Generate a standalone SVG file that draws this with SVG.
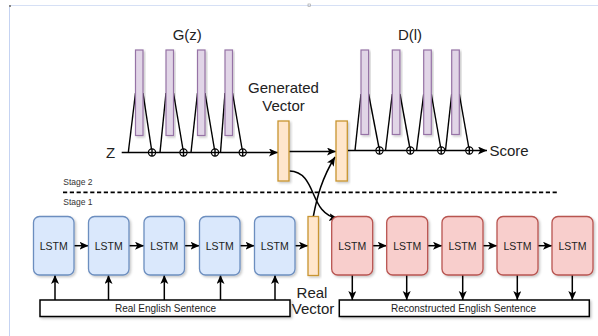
<svg xmlns="http://www.w3.org/2000/svg" width="598" height="336" viewBox="0 0 598 336">
<style>
  text { font-family: "Liberation Sans Narrow", "Liberation Sans", Arial, sans-serif; fill: #222; }
  .big { font-size: 15px; }
  .lstm { font-size: 10.5px; text-anchor: middle; }
  .small { font-size: 8.5px; fill: #333; }
  .sent { font-size: 10px; text-anchor: middle; }
  .bar { fill: #e1d5e7; stroke: #9673a6; stroke-width: 1.2; }
  .vec { fill: #ffe6cc; stroke: #c89530; stroke-width: 1.3; }
  .blue { fill: #dae8fc; stroke: #6c8ebf; stroke-width: 1.3; }
  .red { fill: #f8cecc; stroke: #b85450; stroke-width: 1.3; }
  .ln { stroke: #000; stroke-width: 1.4; fill: none; }
  .arr { stroke: #000; stroke-width: 1.5; fill: none; marker-end: url(#ah); }
  .sbox { fill: #fff; stroke: #000; stroke-width: 1.5; }
  .op { fill: #fff; stroke: #000; stroke-width: 1.2; }
</style>
<defs>
  <marker id="ah" markerUnits="userSpaceOnUse" markerWidth="10" markerHeight="9" refX="9" refY="4" orient="auto">
    <path d="M0,0 L9,4 L0,8 L2.2,4 Z" fill="#000"/>
  </marker>
  <filter id="sh" x="-20%" y="-20%" width="150%" height="150%">
    <feDropShadow dx="1.5" dy="1.5" stdDeviation="0.8" flood-color="#000" flood-opacity="0.22"/>
  </filter>
</defs>

<!-- page border -->
<g id="page">
  <line x1="9" y1="5.5" x2="598" y2="5.5" stroke="#d6e0f5" stroke-width="1"/>
  <line x1="9.5" y1="5" x2="9.5" y2="336" stroke="#c5d3f2" stroke-width="1"/>
  <rect x="9" y="5" width="2" height="2" fill="#888"/>
  <rect x="308" y="4" width="2.5" height="2.5" fill="none" stroke="#999" stroke-width="0.6"/>
</g>

<!-- connectors -->
<g id="connectors">
  <!-- G(z) chain -->
  <line class="arr" x1="121.7" y1="152.5" x2="278" y2="152.5"/>
  <polyline class="ln" points="128.3,152.5 135.5,93"/>
  <polyline class="ln" points="143,93 152,152.5"/>
  <polyline class="ln" points="160,152.5 166,93"/>
  <polyline class="ln" points="173.5,93 183.5,152.5"/>
  <polyline class="ln" points="191,152.5 197.5,93"/>
  <polyline class="ln" points="205,93 215,152.5"/>
  <polyline class="ln" points="220.5,152.5 225,93"/>
  <polyline class="ln" points="232.5,93 242.7,152.5"/>
  <!-- generated -> D -->
  <line class="arr" x1="289" y1="151.5" x2="336" y2="151.5"/>
  <!-- D chain -->
  <line class="arr" x1="347.3" y1="150.5" x2="487" y2="150.5"/>
  <polyline class="ln" points="355,150.5 361,94"/>
  <polyline class="ln" points="368.6,94 379.5,150.5"/>
  <polyline class="ln" points="385.5,150.5 392.3,94"/>
  <polyline class="ln" points="400,94 410.3,150.5"/>
  <polyline class="ln" points="416.5,150.5 423.7,94"/>
  <polyline class="ln" points="431.3,94 441.2,150.5"/>
  <polyline class="ln" points="445.5,150.5 451.7,94"/>
  <polyline class="ln" points="459.3,94 469.3,150.5"/>
  <!-- curves -->
  <path class="arr" d="M289.5,171 C318,172 308,214 338,218.5"/>
  <path class="arr" d="M313.3,216.5 C317,197 322,178 335,157"/>
  <!-- stage divider -->
  <line x1="63" y1="192.3" x2="558" y2="192.3" stroke="#000" stroke-width="1.8" stroke-dasharray="4.2 2.6"/>
  <!-- blue chain -->
  <line class="arr" x1="74" y1="245.7" x2="88.5" y2="245.7"/>
  <line class="arr" x1="129" y1="245.7" x2="144" y2="245.7"/>
  <line class="arr" x1="184.5" y1="245.7" x2="199.5" y2="245.7"/>
  <line class="arr" x1="240" y1="245.7" x2="254.5" y2="245.7"/>
  <line class="arr" x1="295" y1="245.7" x2="308" y2="245.7"/>
  <!-- red chain -->
  <line class="arr" x1="372.7" y1="245.7" x2="386.7" y2="245.7"/>
  <line class="arr" x1="427.7" y1="245.7" x2="442" y2="245.7"/>
  <line class="arr" x1="483" y1="245.7" x2="497" y2="245.7"/>
  <line class="arr" x1="538" y1="245.7" x2="552" y2="245.7"/>
  <!-- sentence up arrows -->
  <line class="arr" x1="55" y1="300" x2="55" y2="275"/>
  <line class="arr" x1="108.5" y1="300" x2="108.5" y2="275"/>
  <line class="arr" x1="164.3" y1="300" x2="164.3" y2="275"/>
  <line class="arr" x1="220.5" y1="300" x2="220.5" y2="275"/>
  <line class="arr" x1="275" y1="300" x2="275" y2="275"/>
  <!-- sentence down arrows -->
  <line class="arr" x1="352.3" y1="275" x2="352.3" y2="300"/>
  <line class="arr" x1="406.7" y1="275" x2="406.7" y2="300"/>
  <line class="arr" x1="462.7" y1="275" x2="462.7" y2="300"/>
  <line class="arr" x1="517.3" y1="275" x2="517.3" y2="300"/>
  <line class="arr" x1="572.3" y1="275" x2="572.3" y2="300"/>
</g>

<!-- G(z) -->
<g id="G">
  <text class="big" x="187.3" y="40" text-anchor="middle">G(z)</text>
  <rect class="bar" x="135.5" y="50" width="7.5" height="85.5" filter="url(#sh)"/>
  <rect class="bar" x="166" y="50" width="7.5" height="85.5" filter="url(#sh)"/>
  <rect class="bar" x="197.5" y="50" width="7.5" height="85.5" filter="url(#sh)"/>
  <rect class="bar" x="225" y="50" width="7.5" height="85.5" filter="url(#sh)"/>
</g>
<g id="G-ops">
  <g><circle class="op" cx="152" cy="152.5" r="3.6"/><line class="ln" stroke-width="1" x1="152" y1="148.9" x2="152" y2="156.1"/><line class="ln" stroke-width="1" x1="148.4" y1="152.5" x2="155.6" y2="152.5"/></g>
  <g><circle class="op" cx="183.5" cy="152.5" r="3.6"/><line class="ln" stroke-width="1" x1="183.5" y1="148.9" x2="183.5" y2="156.1"/><line class="ln" stroke-width="1" x1="179.9" y1="152.5" x2="187.1" y2="152.5"/></g>
  <g><circle class="op" cx="215" cy="152.5" r="3.6"/><line class="ln" stroke-width="1" x1="215" y1="148.9" x2="215" y2="156.1"/><line class="ln" stroke-width="1" x1="211.4" y1="152.5" x2="218.6" y2="152.5"/></g>
  <g><circle class="op" cx="242.7" cy="152.5" r="3.6"/><line class="ln" stroke-width="1" x1="242.7" y1="148.9" x2="242.7" y2="156.1"/><line class="ln" stroke-width="1" x1="239.1" y1="152.5" x2="246.3" y2="152.5"/></g>
</g>
<g id="Z"><text class="big" x="106" y="157.5">Z</text></g>

<!-- D(l) -->
<g id="D">
  <text class="big" x="410" y="40" text-anchor="middle">D(l)</text>
  <rect class="bar" x="361" y="50" width="7.6" height="84.5" filter="url(#sh)"/>
  <rect class="bar" x="392.3" y="50" width="7.6" height="84.5" filter="url(#sh)"/>
  <rect class="bar" x="423.7" y="50" width="7.6" height="84.5" filter="url(#sh)"/>
  <rect class="bar" x="451.7" y="50" width="7.6" height="84.5" filter="url(#sh)"/>
</g>
<g id="D-ops">
  <g><circle class="op" cx="379.5" cy="150.5" r="3.6"/><line class="ln" stroke-width="1" x1="379.5" y1="146.9" x2="379.5" y2="154.1"/><line class="ln" stroke-width="1" x1="375.9" y1="150.5" x2="383.1" y2="150.5"/></g>
  <g><circle class="op" cx="410.3" cy="150.5" r="3.6"/><line class="ln" stroke-width="1" x1="410.3" y1="146.9" x2="410.3" y2="154.1"/><line class="ln" stroke-width="1" x1="406.7" y1="150.5" x2="413.9" y2="150.5"/></g>
  <g><circle class="op" cx="441.2" cy="150.5" r="3.6"/><line class="ln" stroke-width="1" x1="441.2" y1="146.9" x2="441.2" y2="154.1"/><line class="ln" stroke-width="1" x1="437.6" y1="150.5" x2="444.8" y2="150.5"/></g>
  <g><circle class="op" cx="469.3" cy="150.5" r="3.6"/><line class="ln" stroke-width="1" x1="469.3" y1="146.9" x2="469.3" y2="154.1"/><line class="ln" stroke-width="1" x1="465.7" y1="150.5" x2="472.9" y2="150.5"/></g>
</g>
<g id="Score"><text class="big" x="489.5" y="155.5">Score</text></g>

<!-- vectors -->
<g id="generated-vector">
  <text class="big" x="283.5" y="93.3" text-anchor="middle">Generated</text>
  <text class="big" x="283.5" y="111.3" text-anchor="middle">Vector</text>
  <rect class="vec" x="278" y="121" width="11" height="60" filter="url(#sh)"/>
</g>
<g id="d-input-vector">
  <rect class="vec" x="336" y="121" width="11.3" height="60" filter="url(#sh)"/>
</g>
<g id="real-vector">
  <rect class="vec" x="308" y="216.5" width="10.5" height="59" filter="url(#sh)"/>
  <text class="big" x="312" y="297.5" text-anchor="middle">Real</text>
  <text class="big" x="313" y="314.3" text-anchor="middle">Vector</text>
</g>

<!-- stage labels -->
<g id="stages">
  <text class="small" x="63.3" y="184.5">Stage 2</text>
  <text class="small" x="63.3" y="204.5">Stage 1</text>
</g>

<!-- encoder LSTMs -->
<g id="enc1"><rect class="blue" x="33.5" y="216.5" width="40.5" height="58.5" rx="6" filter="url(#sh)"/><text class="lstm" x="53.75" y="249.5">LSTM</text></g>
<g id="enc2"><rect class="blue" x="88.5" y="216.5" width="40.5" height="58.5" rx="6" filter="url(#sh)"/><text class="lstm" x="108.75" y="249.5">LSTM</text></g>
<g id="enc3"><rect class="blue" x="144" y="216.5" width="40.5" height="58.5" rx="6" filter="url(#sh)"/><text class="lstm" x="164.25" y="249.5">LSTM</text></g>
<g id="enc4"><rect class="blue" x="199.5" y="216.5" width="40.5" height="58.5" rx="6" filter="url(#sh)"/><text class="lstm" x="219.75" y="249.5">LSTM</text></g>
<g id="enc5"><rect class="blue" x="254.5" y="216.5" width="40.5" height="58.5" rx="6" filter="url(#sh)"/><text class="lstm" x="274.75" y="249.5">LSTM</text></g>

<!-- decoder LSTMs -->
<g id="dec1"><rect class="red" x="331.7" y="216.5" width="41" height="58.5" rx="6" filter="url(#sh)"/><text class="lstm" x="352.2" y="249.5">LSTM</text></g>
<g id="dec2"><rect class="red" x="386.7" y="216.5" width="41" height="58.5" rx="6" filter="url(#sh)"/><text class="lstm" x="407.2" y="249.5">LSTM</text></g>
<g id="dec3"><rect class="red" x="442" y="216.5" width="41" height="58.5" rx="6" filter="url(#sh)"/><text class="lstm" x="462.5" y="249.5">LSTM</text></g>
<g id="dec4"><rect class="red" x="497" y="216.5" width="41" height="58.5" rx="6" filter="url(#sh)"/><text class="lstm" x="517.5" y="249.5">LSTM</text></g>
<g id="dec5"><rect class="red" x="552" y="216.5" width="41" height="58.5" rx="6" filter="url(#sh)"/><text class="lstm" x="572.5" y="249.5">LSTM</text></g>

<!-- sentences -->
<g id="real-sentence"><rect class="sbox" x="40" y="300" width="250" height="16.5" filter="url(#sh)"/><text class="sent" x="165.5" y="311.8">Real English Sentence</text></g>
<g id="recon-sentence"><rect class="sbox" x="339.3" y="300" width="250" height="16.5" filter="url(#sh)"/><text class="sent" x="463.5" y="311.8">Reconstructed English Sentence</text></g>
</svg>
